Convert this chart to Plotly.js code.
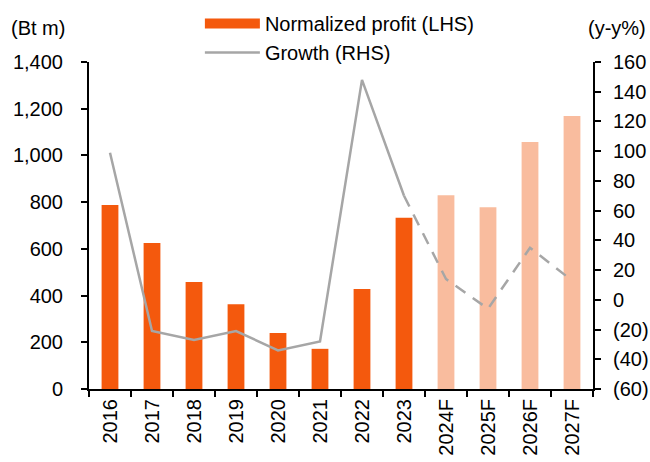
<!DOCTYPE html>
<html>
<head>
<meta charset="utf-8">
<script src="https://cdn.plot.ly/plotly-3.0.1.min.js"></script>
<style>html,body{margin:0;padding:0;background:#fff}#chart{width:650px;height:462px}</style>
</head>
<body>
<div id="chart"></div>
<script>
const categories = ["2016","2017","2018","2019","2020","2021","2022","2023","2024F","2025F","2026F","2027F"];
const profit = [788, 625, 458, 363, 240, 172, 428, 733, 829, 778, 1057, 1169];
const growthActualCats = ["2016","2017","2018","2019","2020","2021","2022","2023"];
const growthActual = [99, -21, -27, -21, -34, -28, 148, 70];
const growthForecastCats = ["2023","2024F","2025F","2026F","2027F"];
const growthForecast = [70, 14, -6, 35, 13];
const rightTickVals = [-60,-40,-20,0,20,40,60,80,100,120,140,160];
const rightTickText = ["(60)","(40)","(20)","0","20","40","60","80","100","120","140","160"];

const ORANGE = "#F4590D", PEACH = "#F9BC9E", GREY = "#A6A6A6";
const barColors = categories.map(c => c.endsWith("F") ? PEACH : ORANGE);
const FONT = "Liberation Sans, Arial, sans-serif";

// paper area: top margin 0, bottom 73 -> paper height 389 px
const PH = 389;
const py = Y => (PH - Y) / PH;

const traces = [
  {type:"bar", x:categories, y:profit, name:"Normalized profit (LHS)",
   marker:{color:barColors}, yaxis:"y", showlegend:false},
  // legend swatch for the bars (wide rectangle as in the reference)
  {type:"scatter", mode:"lines", x:[categories[0]], y:[null], name:"Normalized profit (LHS)",
   line:{color:ORANGE, width:11}, yaxis:"y", legendgroup:"a"},
  {type:"scatter", mode:"lines", x:growthActualCats, y:growthActual, name:"Growth (RHS)",
   line:{color:GREY, width:2.5}, yaxis:"y2", legendgroup:"b"},
  {type:"scatter", mode:"lines", x:growthForecastCats, y:growthForecast, showlegend:false,
   line:{color:GREY, width:2.5, dash:"12px,9px"}, yaxis:"y2", legendgroup:"b"}
];

const layout = {
  width:650, height:462,
  margin:{l:89, r:57, t:0, b:73},
  paper_bgcolor:"#fff", plot_bgcolor:"#fff",
  font:{family:FONT, size:20, color:"#000"},
  showlegend:true,
  bargap:0.6,
  legend:{x:0.22, y:py(4), xanchor:"left", yanchor:"top", orientation:"v", itemwidth:55,
          traceorder:"grouped", tracegroupgap:0, font:{size:20}, bgcolor:"rgba(0,0,0,0)"},
  xaxis:{type:"category", categoryorder:"array", categoryarray:categories,
         tickangle:-90, showline:true, linecolor:"#000", linewidth:2,
         ticks:"outside", tickson:"boundaries", ticklen:6, tickwidth:2, tickcolor:"#000",
         showgrid:false, tickfont:{size:20}, automargin:false},
  yaxis:{domain:[0, py(62)], range:[0,1400], dtick:200, tickformat:",", showline:true, linecolor:"#000", linewidth:2,
         ticks:"outside", ticklen:6, tickwidth:2, tickcolor:"#000", showgrid:false, zeroline:false,
         tickfont:{size:20}, ticklabelstandoff:14, automargin:false},
  yaxis2:{overlaying:"y", side:"right", range:[-60,160], tickmode:"array",
          tickvals:rightTickVals, ticktext:rightTickText, showline:true, linecolor:"#000", linewidth:2,
          ticks:"outside", ticklen:6, tickwidth:2, tickcolor:"#000", showgrid:false, zeroline:false,
          tickfont:{size:20}, ticklabelstandoff:8, automargin:false},
  annotations:[
    {text:"(Bt m)", xref:"paper", yref:"paper", x:-0.159, y:py(28), xanchor:"left", yanchor:"middle",
     showarrow:false, font:{size:20}},
    {text:"(y-y%)", xref:"paper", yref:"paper", x:1.109, y:py(28), xanchor:"right", yanchor:"middle",
     showarrow:false, font:{size:20}}
  ]
};

Plotly.newPlot("chart", traces, layout, {displayModeBar:false, staticPlot:true});
</script>
</body>
</html>
